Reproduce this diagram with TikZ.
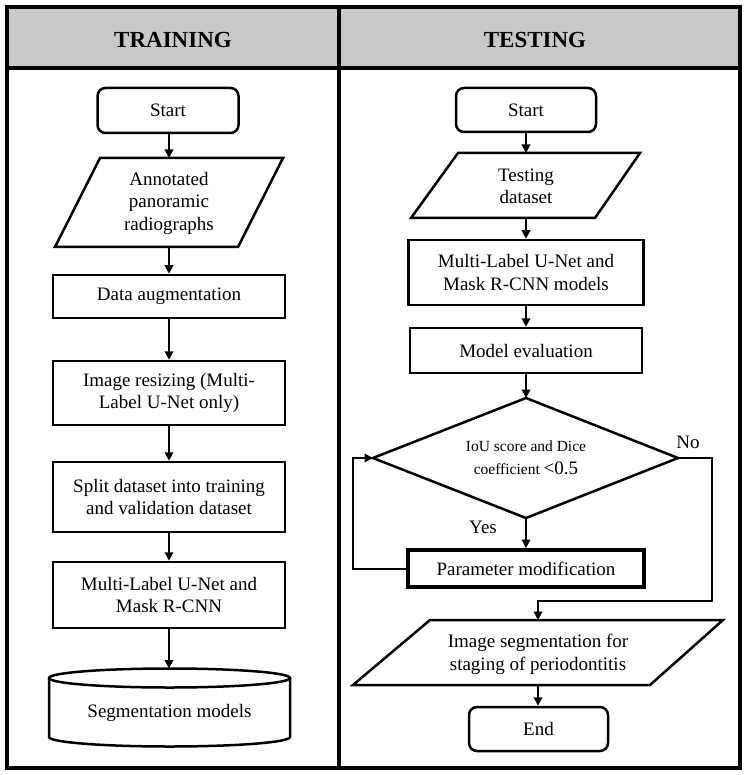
\documentclass[tikz,border=0pt]{standalone}
\usepackage{fontspec}
\setmainfont{Liberation Serif}
\usetikzlibrary{arrows.meta}
\newcommand\bodyfont{\fontsize{19}{22.5}\selectfont}
\newcommand\headfont{\fontsize{23}{26}\selectfont\bfseries}
\newcommand\smallfont{\fontsize{15.5}{20}\selectfont}
\definecolor{headgray}{RGB}{200,200,200}
\begin{document}
\begin{tikzpicture}[x=1pt,y=-1pt,
  lbl/.style={font=\bodyfont, align=center, inner sep=0pt},
  box/.style={draw, line width=2.5pt, font=\bodyfont, align=center, inner sep=0pt},
  rbox/.style={box, rounded corners=8pt},
  shp/.style={draw, line width=2.5pt, line join=miter},
  arr/.style={line width=2pt, -{Triangle[length=8.5pt,width=8.5pt]}},
  frameline/.style={line width=4pt}
]
\useasboundingbox (0,0) rectangle (746,775);
% frame and header
\fill[headgray] (7,7) rectangle (740,68);
\draw[frameline] (7,7) rectangle (740,768);
\draw[frameline] (7,68) -- (740,68);
\draw[frameline] (339,7) -- (339,768);
\node[lbl, font=\headfont] (hTrain) at (173,40) {TRAINING};
\node[lbl, font=\headfont] (hTest) at (535,40) {TESTING};

% ---------------- TRAINING ----------------
\node[rbox, minimum width=141pt, minimum height=45pt] (s1) at (168,110.5) {Start};

\draw[shp] (100,158) -- (283,158) -- (238,247) -- (55,247) -- cycle;
\node[lbl] (ann) at (169,203) {Annotated\\panoramic\\radiographs};
\coordinate (annN) at (169,158);
\coordinate (annS) at (169,247);

\node[box, minimum width=232pt, minimum height=43pt] (aug) at (169,296.5) {Data augmentation};
\node[box, minimum width=232pt, minimum height=64pt] (res) at (169,393) {Image resizing (Multi-\\Label U-Net only)};
\node[box, minimum width=232pt, minimum height=70pt] (spl) at (169,497) {Split dataset into training\\and validation dataset};
\node[box, minimum width=232pt, minimum height=66pt] (mul) at (169,595) {Multi-Label U-Net and\\Mask R-CNN};

% cylinder
\draw[shp] (169.5,678) ellipse [x radius=120.5, y radius=9.5];
\draw[shp] (49,678) -- (49,737) arc[start angle=180, end angle=0, x radius=120.5, y radius=9.5] -- (290,678);
\node[lbl] (cyl) at (169.5,713) {Segmentation models};
\coordinate (cylN) at (169,668.5);

\draw[arr] (annN |- s1.south) -- (annN);
\draw[arr] (annS) -- (aug.north);
\draw[arr] (aug.south) -- (res.north);
\draw[arr] (res.south) -- (spl.north);
\draw[arr] (spl.south) -- (mul.north);
\draw[arr] (mul.south) -- (cylN);

% ---------------- TESTING ----------------
\node[rbox, minimum width=140pt, minimum height=44pt] (s2) at (526,110) {Start};

\draw[shp] (458,153) -- (640,153) -- (595,218) -- (411,218) -- cycle;
\node[lbl] (tds) at (526,186.5) {Testing\\dataset};
\coordinate (tdsN) at (526,153);
\coordinate (tdsS) at (526,218);

\node[box, minimum width=235pt, minimum height=65pt] (mod) at (526,272.5) {Multi-Label U-Net and\\Mask R-CNN models};
\node[box, minimum width=232pt, minimum height=45pt] (eva) at (526,350.5) {Model evaluation};

% decision
\draw[shp] (526,398) -- (678,458) -- (526,518) -- (373,458) -- cycle;
\coordinate (dN) at (526,398);
\coordinate (dE) at (678,458);
\coordinate (dS) at (526,518);
\coordinate (dW) at (373,458);
\node[lbl] (dia) at (526,458) {{\smallfont IoU score and Dice}\\[1pt]{\smallfont coefficient }<0.5};
\node[lbl] (no) at (688,442) {No};
\node[lbl] (yes) at (483,527) {Yes};

\node[box, line width=4pt, minimum width=236pt, minimum height=37pt] (par) at (526,568.5) {Parameter modification};

\draw[shp] (430,620) -- (723,620) -- (650,685) -- (353,685) -- cycle;
\node[lbl] (seg) at (538,654.5) {Image segmentation for\\staging of periodontitis};
\coordinate (segN) at (538,620);
\coordinate (segS) at (538,685);

\node[rbox, minimum width=139pt, minimum height=44pt] (fin) at (538.5,729) {End};

\coordinate (loopC) at (353,458);
\coordinate (noC) at (712,601);

\draw[arr] (tdsN |- s2.south) -- (tdsN);
\draw[arr] (tdsS) -- (mod.north);
\draw[arr] (mod.south) -- (eva.north);
\draw[arr] (eva.south) -- (dN);
\draw[arr] (dS) -- (par.north);
\draw[arr] (par.west) -| (loopC) -- (dW);
\draw[arr] (dE) -| (noC) -| (segN);
\draw[arr] (segS) -- (segS |- fin.north);
\end{tikzpicture}
\end{document}
